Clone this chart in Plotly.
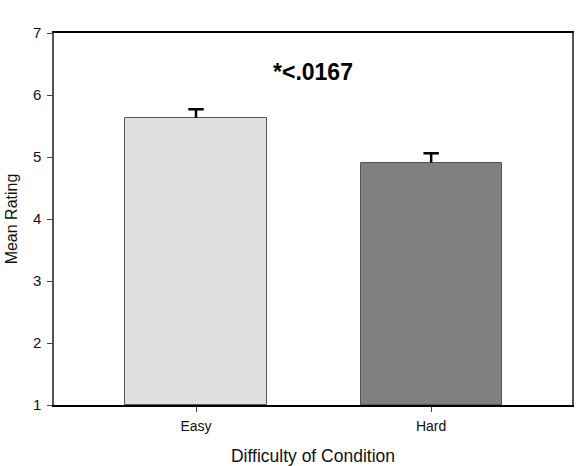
import plotly.graph_objects as go

categories = ["Easy", "Hard"]
means = [5.63, 4.91]
errors_up = [0.14, 0.15]
bar_colors = ["#e0e0e0", "#808080"]

xpos = list(range(len(categories)))
caps = [m + e for m, e in zip(means, errors_up)]

fig = go.Figure()
fig.add_trace(go.Bar(
    x=xpos, y=[m - 1 for m in means], base=1,
    width=0.6,
    marker=dict(color=bar_colors, line=dict(color="#555555", width=1)),
    showlegend=False,
))
# one-sided (upper) error bars: stem from cap down to bar top, T-cap marker on top
fig.add_trace(go.Scatter(
    x=xpos, y=caps, mode="markers",
    marker=dict(symbol="line-ew", size=11, line=dict(color="black", width=2.5)),
    error_y=dict(type="data", array=[0, 0], arrayminus=errors_up, symmetric=False,
                 color="black", thickness=2.5, width=0),
    showlegend=False, hoverinfo="skip",
))

fig.add_annotation(x=0.5, xref="paper", y=6.37, yref="y", text="<b>*<.0167</b>",
                   showarrow=False, font=dict(size=23, color="black", family="Liberation Sans, Arial"))

fig.update_layout(
    width=583, height=466,
    margin=dict(l=54, r=11, t=33, b=61),
    plot_bgcolor="white", paper_bgcolor="white",
    font=dict(family="Liberation Sans, Arial", color="#111111"),
    bargap=0,
)
fig.update_xaxes(
    range=[-0.604, 1.599], tickvals=xpos, ticktext=categories,
    ticks="outside", ticklen=5, tickcolor="#444444",
    showline=True, linecolor="black", linewidth=1.5, mirror=True,
    showgrid=False, zeroline=False, automargin=False,
    tickfont=dict(size=14), ticklabelstandoff=2,
    title=dict(text="Difficulty of Condition", font=dict(size=17.5), standoff=21),
)
fig.update_yaxes(
    range=[1, 7], tickvals=[1, 2, 3, 4, 5, 6, 7],
    ticks="outside", ticklen=5, tickcolor="#444444",
    showline=True, linecolor="#555555", linewidth=1.5, mirror=True,
    showgrid=False, zeroline=False, automargin=False,
    tickfont=dict(size=15), ticklabelstandoff=3,
    title=dict(text="Mean Rating", font=dict(size=16), standoff=11),
)

fig.write_html("out.html")
